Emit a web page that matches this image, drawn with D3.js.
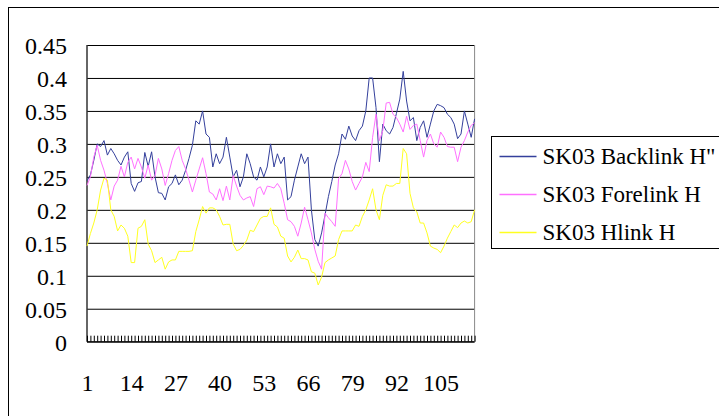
<!DOCTYPE html>
<html>
<head>
<meta charset="utf-8">
<script src="https://cdn.jsdelivr.net/npm/d3@7"></script>
</head>
<body style="margin:0;background:#fff">
<svg id="chart" width="719" height="416" font-family="Liberation Serif"></svg>
<script>
// values, one per day 1..115
var backlink = [
  0.244, 0.253, 0.275, 0.300, 0.296, 0.305, 0.283, 0.293, 0.285, 0.275,
  0.268, 0.280, 0.288, 0.240, 0.228, 0.241, 0.243, 0.287, 0.266, 0.288,
  0.250, 0.226, 0.225, 0.215, 0.235, 0.240, 0.253, 0.238, 0.245, 0.260,
  0.278, 0.298, 0.335, 0.330, 0.350, 0.315, 0.310, 0.265, 0.285, 0.270,
  0.280, 0.310, 0.280, 0.250, 0.260, 0.235, 0.250, 0.285, 0.270, 0.250,
  0.245, 0.265, 0.250, 0.265, 0.300, 0.265, 0.285, 0.270, 0.280, 0.215,
  0.220, 0.245, 0.265, 0.285, 0.270, 0.280, 0.200, 0.155, 0.145, 0.165,
  0.192, 0.220, 0.243, 0.268, 0.285, 0.315, 0.307, 0.327, 0.312, 0.305,
  0.320, 0.327, 0.350, 0.400, 0.400, 0.355, 0.273, 0.330, 0.320, 0.315,
  0.325, 0.346, 0.368, 0.410, 0.365, 0.335, 0.340, 0.305, 0.325, 0.335,
  0.310, 0.330, 0.350, 0.360, 0.358, 0.355, 0.345, 0.340, 0.330, 0.308,
  0.315, 0.350, 0.330, 0.310, 0.338
];
var forelink = [
  0.237, 0.250, 0.280, 0.298, 0.275, 0.260, 0.240, 0.215, 0.236, 0.245,
  0.266, 0.250, 0.272, 0.280, 0.262, 0.278, 0.265, 0.248, 0.268, 0.245,
  0.252, 0.278, 0.262, 0.237, 0.255, 0.275, 0.290, 0.296, 0.275, 0.262,
  0.245, 0.227, 0.245, 0.262, 0.279, 0.255, 0.227, 0.224, 0.215, 0.232,
  0.214, 0.236, 0.215, 0.252, 0.236, 0.222, 0.215, 0.218, 0.220, 0.205,
  0.232, 0.235, 0.223, 0.236, 0.235, 0.233, 0.240, 0.232, 0.210, 0.185,
  0.182, 0.175, 0.160, 0.180, 0.204, 0.185, 0.165, 0.140, 0.122, 0.110,
  0.195, 0.188, 0.182, 0.175, 0.247, 0.255, 0.275, 0.262, 0.243, 0.230,
  0.240, 0.250, 0.272, 0.258, 0.310, 0.345, 0.305, 0.320, 0.362, 0.363,
  0.345, 0.340, 0.330, 0.318, 0.342, 0.322, 0.328, 0.330, 0.305, 0.280,
  0.305, 0.315, 0.300, 0.295, 0.318, 0.310, 0.296, 0.295, 0.295, 0.273,
  0.295, 0.305, 0.318, 0.328, 0.332
];
var hlink = [
  0.145, 0.164, 0.180, 0.200, 0.230, 0.248, 0.245, 0.200, 0.190, 0.168,
  0.177, 0.172, 0.160, 0.120, 0.120, 0.172, 0.175, 0.185, 0.148, 0.138,
  0.120, 0.124, 0.128, 0.110, 0.121, 0.124, 0.124, 0.137, 0.137, 0.137,
  0.137, 0.138, 0.167, 0.185, 0.205, 0.195, 0.203, 0.203, 0.200, 0.190,
  0.177, 0.178, 0.178, 0.148, 0.138, 0.140, 0.146, 0.154, 0.169, 0.167,
  0.177, 0.187, 0.190, 0.190, 0.203, 0.178, 0.174, 0.160, 0.157, 0.130,
  0.121, 0.128, 0.139, 0.126, 0.126, 0.124, 0.106, 0.104, 0.086, 0.098,
  0.120, 0.124, 0.127, 0.130, 0.155, 0.168, 0.168, 0.168, 0.168, 0.177,
  0.175, 0.190, 0.200, 0.215, 0.232, 0.200, 0.185, 0.222, 0.238, 0.236,
  0.236, 0.240, 0.240, 0.293, 0.285, 0.225, 0.203, 0.197, 0.180, 0.180,
  0.165, 0.145, 0.142, 0.140, 0.135, 0.145, 0.157, 0.167, 0.177, 0.173,
  0.180, 0.183, 0.180, 0.182, 0.200
];
var seriesNames = ["SK03 Backlink H\"", "SK03 Forelink H", "SK03 Hlink H"];
var seriesColors = ["#34409c", "#ff70ff", "#ffff20"];
var yTicks = [0, 0.05, 0.1, 0.15, 0.2, 0.25, 0.3, 0.35, 0.4, 0.45];
var xLabelStep = 13;

var days = d3.range(1, backlink.length + 1);
var series = [backlink, forelink, hlink];

var plot = {left: 87, right: 474.6, top: 45, bottom: 341.7};
var fontName = "Liberation Serif";

var svg = d3.select("#chart");

// outer chart frame (runs off the right and bottom of the picture)
svg.append("rect")
    .attr("x", 8.5).attr("y", 7.5)
    .attr("width", 800).attr("height", 500)
    .attr("fill", "#fff")
    .attr("stroke", "#000");

var x = d3.scalePoint()
    .domain(days)
    .range([plot.left, plot.right]);

var y = d3.scaleLinear()
    .domain([0, 0.45])
    .range([plot.bottom, plot.top]);

// gridlines
var grid = svg.append("g")
    .attr("transform", "translate(" + plot.left + ",0)")
    .call(d3.axisLeft(y).tickValues(yTicks).tickSize(-(plot.right - plot.left)).tickFormat(""));
grid.select(".domain").remove();
grid.selectAll(".tick line").attr("stroke", "#000");

// plot frame: left axis, right edge
svg.append("line")
    .attr("x1", plot.left).attr("x2", plot.left)
    .attr("y1", y(0.45)).attr("y2", y(0))
    .attr("stroke", "#333").attr("stroke-width", 1.5);
svg.append("line")
    .attr("x1", plot.right).attr("x2", plot.right)
    .attr("y1", y(0.45)).attr("y2", y(0))
    .attr("stroke", "#888");

// y labels
var yAxis = svg.append("g")
    .attr("transform", "translate(" + plot.left + ",0)")
    .call(d3.axisLeft(y).tickValues(yTicks).tickSize(0).tickPadding(20)
      .tickFormat(function(d){ return d3.format("")(+d.toFixed(2)); }));
yAxis.select(".domain").remove();
yAxis.attr("font-family", fontName).attr("font-size", 24);
yAxis.selectAll("text").attr("dy", "0.36em");

// x axis: small inward ticks on each day, labels every 13 days
var xAxis = svg.append("g")
    .attr("transform", "translate(0," + plot.bottom + ")")
    .call(d3.axisBottom(x).tickSize(-6).tickPadding(32)
      .tickFormat(function(d){ return (d - 1) % xLabelStep == 0 ? d : ""; }));
xAxis.select(".domain").remove();
xAxis.attr("font-family", fontName).attr("font-size", 24);
xAxis.selectAll(".tick line").attr("stroke", "#000");
svg.append("line")
    .attr("x1", plot.left).attr("x2", plot.right)
    .attr("y1", plot.bottom).attr("y2", plot.bottom)
    .attr("stroke", "#000");

// data lines
var line = d3.line()
    .x(function(d, i){ return x(days[i]); })
    .y(function(d){ return y(d); });

svg.selectAll(".series")
    .data(series)
    .enter()
    .append("path")
    .attr("class", "series")
    .attr("d", line)
    .attr("fill", "none")
    .attr("stroke", function(d, i){ return seriesColors[i]; })
    .attr("stroke-width", 1);

// legend
var legend = svg.append("g")
    .attr("transform", "translate(491.5,136.5)")
    .attr("font-family", fontName)
    .attr("font-size", 23);
legend.append("rect")
    .attr("width", 260).attr("height", 112)
    .attr("fill", "#fff").attr("stroke", "#000");
var item = legend.selectAll(".item")
    .data(seriesNames)
    .enter()
    .append("g")
    .attr("class", "item")
    .attr("transform", function(d, i){ return "translate(0," + (20 + i * 38) + ")"; });
item.append("line")
    .attr("x1", 8).attr("x2", 45)
    .attr("stroke", function(d, i){ return seriesColors[i]; })
    .attr("stroke-width", 1.5);
item.append("text")
    .attr("x", 51)
    .attr("dy", "0.34em")
    .text(function(d){ return d; });

// re-apply the face once the font is ready, in case the first paint used a fallback
if (document.fonts && document.fonts.load) {
  document.fonts.load("24px '" + fontName + "'").then(function(){
    svg.selectAll("text").style("font-family", "'" + fontName + "', serif");
  });
}
</script>
</body>
</html>
